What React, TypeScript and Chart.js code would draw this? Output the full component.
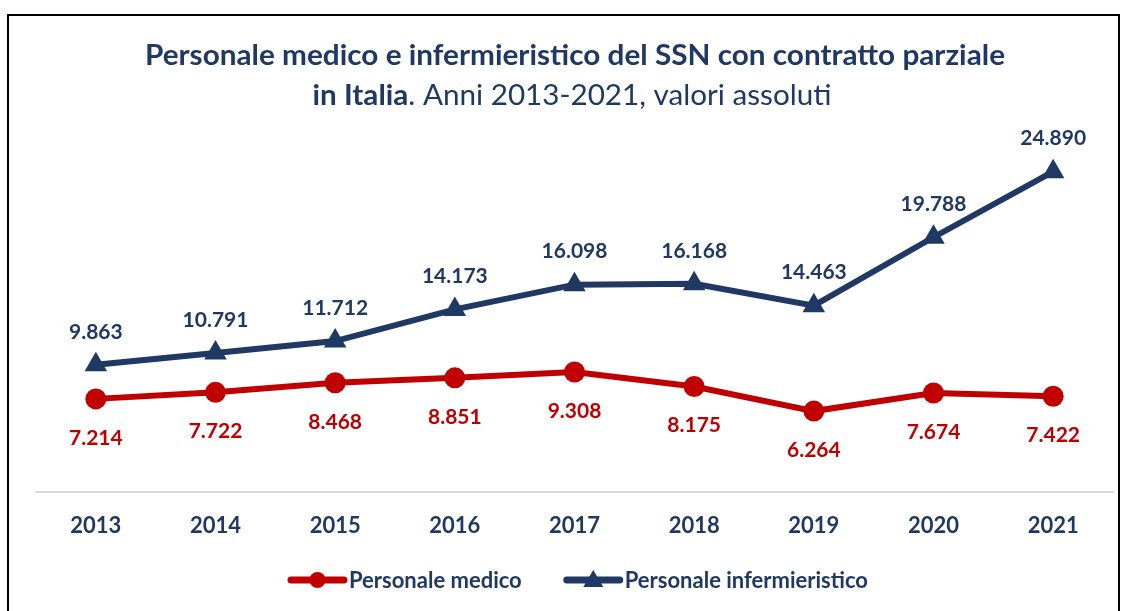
import React, { useEffect, useRef } from 'react';
import { Chart, registerables } from 'chart.js';

Chart.register(...registerables);

const years = ['2013', '2014', '2015', '2016', '2017', '2018', '2019', '2020', '2021'];
const personaleMedico = [7214, 7722, 8468, 8851, 9308, 8175, 6264, 7674, 7422];
const personaleInfermieristico = [9863, 10791, 11712, 14173, 16098, 16168, 14463, 19788, 24890];
const seriesNames = ['Personale medico', 'Personale infermieristico'];
const titleLine1 = 'Personale medico e infermieristico del SSN con contratto parziale';
const titleLine2Bold = 'in Italia';
const titleLine2Rest = '. Anni 2013-2021, valori assoluti';

const NAVY = '#203864';
const RED = '#C00000';
const FONT = 'Lato, "Open Sans", sans-serif';

const fmt = (v: number) => String(Math.round(v)).replace(/\B(?=(\d{3})+(?!\d))/g, '.');

const decorPlugin = {
  id: 'decor',
  beforeDraw(chart: any) {
    const ctx = chart.ctx;
    ctx.save();
    ctx.fillStyle = '#ffffff';
    ctx.fillRect(0, 0, chart.width, chart.height);
    ctx.strokeStyle = '#000000';
    ctx.lineWidth = 2;
    ctx.strokeRect(8, 15, 1111, 700);
    ctx.restore();
    // title line 1
    const cx = 575;
    ctx.save();
    ctx.fillStyle = NAVY;
    ctx.textBaseline = 'middle';
    ctx.textAlign = 'center';
    ctx.font = `bold 28px ${FONT}`;
    const w1 = ctx.measureText(titleLine1).width;
    const s1 = 860 / w1;
    ctx.translate(cx, 56);
    ctx.scale(s1, 1);
    ctx.fillText(titleLine1, 0, 0);
    ctx.restore();
    // title line 2
    ctx.save();
    ctx.fillStyle = NAVY;
    ctx.textBaseline = 'middle';
    ctx.textAlign = 'left';
    ctx.font = `bold 28px ${FONT}`;
    const wB = ctx.measureText(titleLine2Bold).width;
    ctx.font = `28px ${FONT}`;
    const wR = ctx.measureText(titleLine2Rest).width;
    const s2 = 519 / (wB + wR);
    ctx.translate(572 - 259.5, 96);
    ctx.scale(s2, 1);
    ctx.font = `bold 28px ${FONT}`;
    ctx.fillText(titleLine2Bold, 0, 0);
    ctx.font = `28px ${FONT}`;
    ctx.fillText(titleLine2Rest, wB, 0);
    ctx.restore();
  },
  afterDatasetsDraw(chart: any) {
    const ctx = chart.ctx;
    ctx.save();
    ctx.textAlign = 'center';
    ctx.textBaseline = 'middle';
    ctx.font = `bold 21px ${FONT}`;
    chart.data.datasets.forEach((ds: any, i: number) => {
      const meta = chart.getDatasetMeta(i);
      ctx.fillStyle = ds.borderColor;
      meta.data.forEach((pt: any, j: number) => {
        const off = i === 0 ? 39 : -33;
        ctx.fillText(fmt(ds.data[j]), pt.x, pt.y + off);
      });
    });
    ctx.restore();
  },
  afterDraw(chart: any) {
    const ctx = chart.ctx;
    ctx.save();
    ctx.font = `bold 22px ${FONT}`;
    ctx.textBaseline = 'middle';
    const lineLen = 59;
    const gap = 42;
    const items = chart.data.datasets.map((ds: any) => ({
      ds,
      w: ctx.measureText(ds.label).width,
    }));
    const total = items.reduce((a: number, it: any) => a + lineLen + 2 + it.w, 0) + gap * (items.length - 1);
    let x = 578 - total / 2;
    const y = 580;
    items.forEach((it: any) => {
      const ds = it.ds;
      ctx.strokeStyle = ds.borderColor;
      ctx.fillStyle = ds.borderColor;
      ctx.lineWidth = 7;
      ctx.lineCap = 'round';
      ctx.beginPath();
      ctx.moveTo(x + 3, y);
      ctx.lineTo(x + lineLen - 3, y);
      ctx.stroke();
      const mx = x + lineLen / 2;
      ctx.beginPath();
      if (ds.pointStyle === 'circle') {
        ctx.arc(mx, y, 8, 0, Math.PI * 2);
      } else {
        ctx.moveTo(mx, y - 10);
        ctx.lineTo(mx + 10, y + 7);
        ctx.lineTo(mx - 10, y + 7);
        ctx.closePath();
      }
      ctx.fill();
      ctx.fillStyle = NAVY;
      ctx.textAlign = 'left';
      ctx.fillText(ds.label, x + lineLen + 2, y + 1);
      x += lineLen + 2 + it.w + gap;
    });
    ctx.restore();
  },
};

export default function App() {
  const ref = useRef<HTMLCanvasElement | null>(null);
  useEffect(() => {
    if (!ref.current) return;
    const chart = new Chart(ref.current, {
      type: 'line',
      data: {
        labels: years,
        datasets: [
          {
            label: seriesNames[0],
            data: personaleMedico,
            borderColor: RED,
            backgroundColor: RED,
            borderWidth: 6,
            pointStyle: 'circle',
            pointRadius: 10.5,
            pointBackgroundColor: RED,
            pointBorderWidth: 0,
            tension: 0,
          },
          {
            label: seriesNames[1],
            data: personaleInfermieristico,
            borderColor: NAVY,
            backgroundColor: NAVY,
            borderWidth: 6,
            pointStyle: 'triangle',
            pointRadius: 13,
            pointBackgroundColor: NAVY,
            pointBorderWidth: 0,
            tension: 0,
          },
        ],
      },
      options: {
        responsive: false,
        animation: false,
        layout: { padding: { left: 36, right: 17, top: 106, bottom: 51 } },
        plugins: {
          legend: { display: false },
          title: { display: false },
          tooltip: { enabled: false },
        },
        scales: {
          x: {
            offset: true,
            grid: { display: false, drawTicks: false },
            border: { display: true, color: '#d9d9d9', width: 2 },
            ticks: {
              padding: 21,
              color: NAVY,
              font: { family: FONT, size: 22, weight: 'bold' },
            },
          },
          y: {
            display: false,
            min: 0,
            max: 30000,
          },
        },
      },
      plugins: [decorPlugin],
    });
    return () => chart.destroy();
  }, []);
  return (
    <div style={{ position: 'fixed', left: 0, top: 0, width: 1130, height: 611 }}>
      <canvas ref={ref} width={1130} height={611} style={{ display: 'block' }} />
    </div>
  );
}
